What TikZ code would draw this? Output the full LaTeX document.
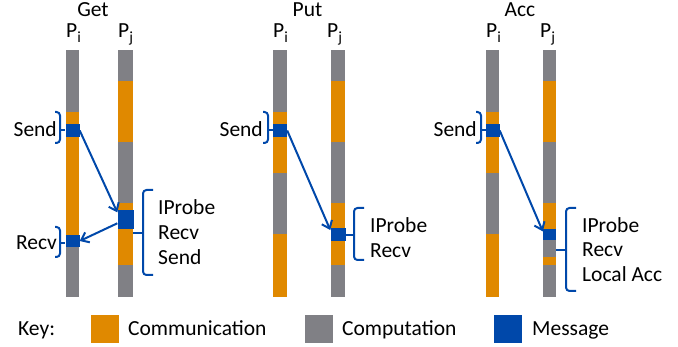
\documentclass[tikz,border=0pt]{standalone}
\usepackage{fontspec}
\setmainfont{Carlito}
\usetikzlibrary{arrows.meta}
\definecolor{commc}{RGB}{224,137,0}
\definecolor{compc}{RGB}{128,128,133}
\definecolor{msgc}{RGB}{0,72,170}
% one coloured stretch of a process timeline: x1 x2 y1 y2 colour
\newcommand\barseg[5]{\fill[#5] (#1,#3) rectangle (#2,#4);}
\newcommand\proc[1]{P\raisebox{-5pt}{\fontsize{15.5}{15}\selectfont #1}}
\begin{document}
\begin{tikzpicture}[x=1pt,y=-1pt,
  lbl/.style={inner sep=0pt, font=\fontsize{21.5}{24}\selectfont},
  msg/.style={fill=msgc, inner sep=0pt},
  keybox/.style={inner sep=0pt, minimum width=28pt, minimum height=28pt},
  brc/.style={draw=msgc, line width=2pt, rounded corners=3.5pt},
  tick/.style={draw=msgc, line width=2pt},
  arr/.style={draw=msgc, line width=2pt, -{Straight Barb[length=7pt,width=11pt]}}]
\useasboundingbox (0,0) rectangle (678,347);

% ---------------- Get ----------------
\node[lbl, anchor=base] (getT) at (93,17) {Get};
\node[lbl, anchor=base west] (getPi) at (66,38) {\proc{i}};
\node[lbl, anchor=base west] (getPj) at (118,38) {\proc{j}};
\barseg{66}{79}{50}{112}{compc}
\barseg{66}{79}{112}{241}{commc}
\barseg{66}{79}{241}{297}{compc}
\barseg{118}{133}{50}{81}{compc}
\barseg{118}{133}{81}{142}{commc}
\barseg{118}{133}{142}{203}{compc}
\barseg{118}{133}{203}{265}{commc}
\barseg{118}{133}{265}{297}{compc}
\node[msg, minimum width=14pt, minimum height=13pt] (getS) at (72.5,130.5) {};
\node[msg, minimum width=14pt, minimum height=12pt] (getV) at (72.5,241) {};
\node[msg, minimum width=16pt, minimum height=19pt] (getR) at (125.5,219.5) {};
\draw[arr] (getS.east) -- (getR.139);
\draw[arr] (getR.205) -- (getV.east);
\draw[brc] (55,112) -- (60,112) -- (60,143) -- (55,143);
\draw[tick] (60,130) -- (65,130);
\draw[brc] (55,227) -- (60,227) -- (60,257) -- (55,257);
\draw[tick] (60,243) -- (65,243);
\draw[brc] (153,190) -- (143,190) -- (143,275) -- (153,275);
\draw[tick] (143,233) -- (133,233);
\node[lbl, anchor=base east] (getSendL) at (57,137) {Send};
\node[lbl, anchor=base east] (getRecvL) at (57,250) {Recv};
\node[lbl, anchor=base west] (getL1) at (158,215) {IProbe};
\node[lbl, anchor=base west] (getL2) at (158,240) {Recv};
\node[lbl, anchor=base west] (getL3) at (158,265) {Send};

% ---------------- Put ----------------
\node[lbl, anchor=base] (putT) at (307.5,17) {Put};
\node[lbl, anchor=base west] (putPi) at (273,38) {\proc{i}};
\node[lbl, anchor=base west] (putPj) at (327,38) {\proc{j}};
\barseg{273}{287}{50}{112}{compc}
\barseg{273}{287}{112}{173}{commc}
\barseg{273}{287}{173}{234}{compc}
\barseg{273}{287}{234}{297}{commc}
\barseg{331}{345}{50}{81}{compc}
\barseg{331}{345}{81}{142}{commc}
\barseg{331}{345}{142}{203}{compc}
\barseg{331}{345}{203}{265}{commc}
\barseg{331}{345}{265}{297}{compc}
\node[msg, minimum width=14pt, minimum height=13pt] (putS) at (280,130.5) {};
\node[msg, minimum width=15pt, minimum height=13pt] (putR) at (338,234.5) {};
\draw[arr] (putS.east) -- (putR.150);
\draw[brc] (263,112) -- (268,112) -- (268,143) -- (263,143);
\draw[tick] (268,130) -- (273,130);
\draw[brc] (364,208) -- (354,208) -- (354,260) -- (364,260);
\draw[tick] (354,235) -- (345,235);
\node[lbl, anchor=base east] (putSendL) at (263,137) {Send};
\node[lbl, anchor=base west] (putL1) at (370,233) {IProbe};
\node[lbl, anchor=base west] (putL2) at (370,258) {Recv};

% ---------------- Acc ----------------
\node[lbl, anchor=base] (accT) at (520,17) {Acc};
\node[lbl, anchor=base west] (accPi) at (486,38) {\proc{i}};
\node[lbl, anchor=base west] (accPj) at (540,38) {\proc{j}};
\barseg{486}{499}{50}{112}{compc}
\barseg{486}{499}{112}{173}{commc}
\barseg{486}{499}{173}{234}{compc}
\barseg{486}{499}{234}{297}{commc}
\barseg{543}{556}{50}{81}{compc}
\barseg{543}{556}{81}{142}{commc}
\barseg{543}{556}{142}{203}{compc}
\barseg{543}{556}{203}{229}{commc}
\barseg{543}{556}{240}{257}{compc}
\barseg{543}{556}{257}{265}{commc}
\barseg{543}{556}{265}{297}{compc}
\node[msg, minimum width=14pt, minimum height=13pt] (accS) at (492.5,130.5) {};
\node[msg, minimum width=13pt, minimum height=11pt] (accR) at (549.5,234.5) {};
\draw[arr] (accS.east) -- (accR.155);
\draw[brc] (476,112) -- (481,112) -- (481,143) -- (476,143);
\draw[tick] (481,130) -- (486,130);
\draw[brc] (576,208) -- (566,208) -- (566,291) -- (576,291);
\draw[tick] (566,250) -- (556,250);
\node[lbl, anchor=base east] (accSendL) at (477,137) {Send};
\node[lbl, anchor=base west] (accL1) at (582,233) {IProbe};
\node[lbl, anchor=base west] (accL2) at (582,257) {Recv};
\node[lbl, anchor=base west] (accL3) at (582,282) {Local Acc};

% ---------------- Key ----------------
\node[lbl, anchor=base west] (keyL) at (18,336) {Key:};
\node[keybox, fill=commc] (keyComm) at (105,329) {};
\node[lbl, anchor=base west] (keyCommL) at (128,336) {Communication};
\node[keybox, fill=compc] (keyComp) at (319,329) {};
\node[lbl, anchor=base west] (keyCompL) at (342,336) {Computation};
\node[keybox, fill=msgc] (keyMsg) at (508,329) {};
\node[lbl, anchor=base west] (keyMsgL) at (532,336) {Message};
\end{tikzpicture}
\end{document}
